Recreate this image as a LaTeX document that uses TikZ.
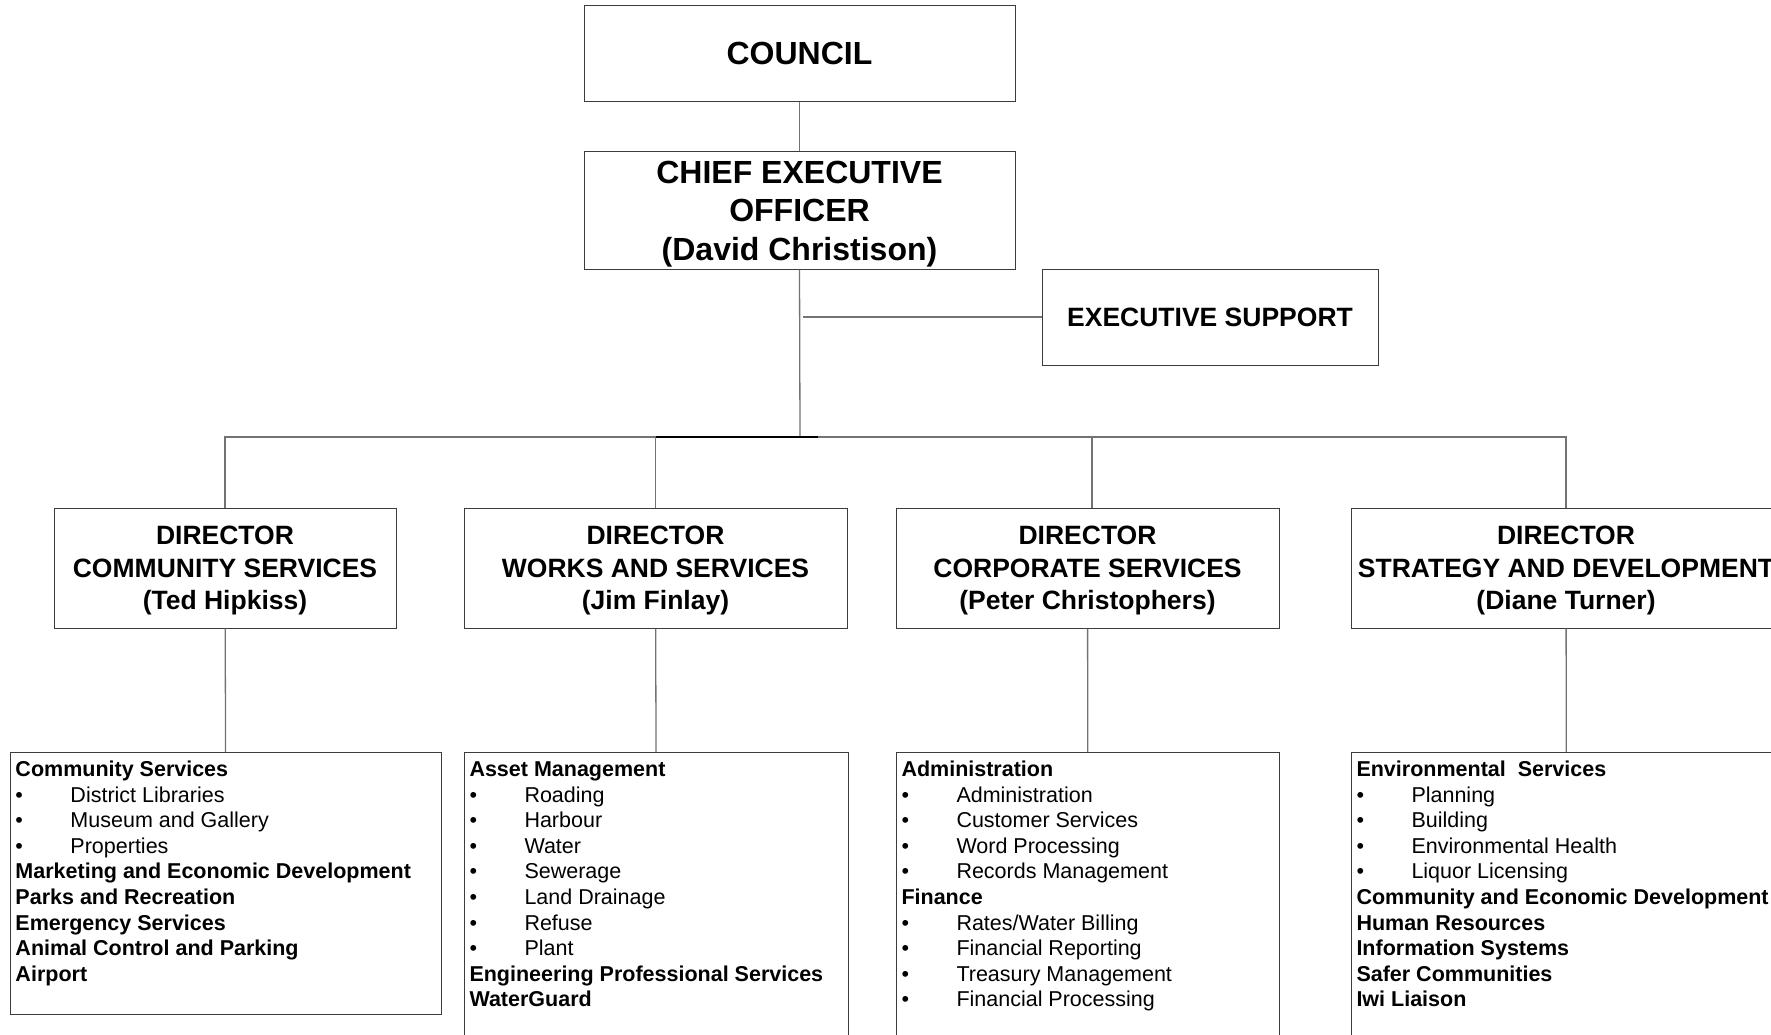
\documentclass[tikz,border=0pt]{standalone}
\usepackage{fontspec}
\setmainfont{Liberation Sans}
\usepackage{xcolor}
\usepackage{tikz}
\usetikzlibrary{positioning, calc}
\definecolor{boxline}{RGB}{60, 60, 60}
\definecolor{linkgray}{RGB}{115, 115, 115}

\newcommand{\unitfont}{\fontsize{21.5}{25.6}\selectfont}
\newcommand{\unithead}[1]{\strut\textbf{#1}\\}
\newcommand{\unititem}[1]{\strut\makebox[55pt][l]{\textbullet}#1\\}
\newcommand{\unitlist}[3]{\parbox[t][#2pt][t]{#1pt}{\unitfont\raggedright #3}}

\begin{document}
\begin{tikzpicture}[
    x=1pt, y=-1pt,
    box/.style={rectangle, draw=boxline, line width=1pt, align=center, inner sep=0pt},
    topbox/.style={box, minimum width=431pt, font=\fontsize{32}{38.5}\selectfont\bfseries},
    dirbox/.style={box, minimum height=120pt, font=\fontsize{26.5}{32.5}\selectfont\bfseries},
    listbox/.style={rectangle, draw=boxline, line width=1pt, anchor=north west, inner xsep=5pt, inner ysep=6pt},
    link/.style={draw=linkgray, line width=1.3pt}
]
\useasboundingbox (0,0) rectangle (1771,1034);
\clip (0,0) rectangle (1771,1034);

% Top of the tree
\node[topbox, minimum height=96pt] (council) at (799.5,53) {COUNCIL};
\node[topbox, minimum height=118pt] (ceo) at (799.5,210) {\rule{0pt}{30pt}CHIEF EXECUTIVE\\OFFICER\\(David Christison)};
\node[box, font=\fontsize{26.5}{32}\selectfont\bfseries, minimum width=336pt, minimum height=96pt] (exec) at (1210,317) {EXECUTIVE SUPPORT};

% Directors
\node[dirbox, minimum width=342pt] (comm) at (225,568) {\rule{0pt}{24pt}DIRECTOR\\COMMUNITY SERVICES\\(Ted Hipkiss)};
\node[dirbox, minimum width=383pt] (works) at (655.5,568) {\rule{0pt}{24pt}DIRECTOR\\WORKS AND SERVICES\\(Jim Finlay)};
\node[dirbox, minimum width=383pt] (corp) at (1087.5,568) {\rule{0pt}{24pt}DIRECTOR\\CORPORATE SERVICES\\(Peter Christophers)};
\node[dirbox, minimum width=430pt] (strat) at (1566,568) {\rule{0pt}{24pt}DIRECTOR\\STRATEGY AND DEVELOPMENT\\(Diane Turner)};

% Units under each director
\node[listbox] (commlist) at (10,752) {\unitlist{421}{250}{%
    \unithead{Community Services}
    \unititem{District Libraries}
    \unititem{Museum and Gallery}
    \unititem{Properties}
    \unithead{Marketing and Economic Development}
    \unithead{Parks and Recreation}
    \unithead{Emergency Services}
    \unithead{Animal Control and Parking}
    \unithead{Airport}}};
\node[listbox] (workslist) at (464,752) {\unitlist{374}{310}{%
    \unithead{Asset Management}
    \unititem{Roading}
    \unititem{Harbour}
    \unititem{Water}
    \unititem{Sewerage}
    \unititem{Land Drainage}
    \unititem{Refuse}
    \unititem{Plant}
    \unithead{Engineering Professional Services}
    \unithead{WaterGuard}}};
\node[listbox] (corplist) at (896,752) {\unitlist{373}{310}{%
    \unithead{Administration}
    \unititem{Administration}
    \unititem{Customer Services}
    \unititem{Word Processing}
    \unititem{Records Management}
    \unithead{Finance}
    \unititem{Rates/Water Billing}
    \unititem{Financial Reporting}
    \unititem{Treasury Management}
    \unititem{Financial Processing}}};
\node[listbox] (stratlist) at (1351,752) {\unitlist{420}{310}{%
    \unithead{Environmental\ \ Services}
    \unititem{Planning}
    \unititem{Building}
    \unititem{Environmental Health}
    \unititem{Liquor Licensing}
    \unithead{Community and Economic Development}
    \unithead{Human Resources}
    \unithead{Information Systems}
    \unithead{Safer Communities}
    \unithead{Iwi Liaison}}};

% Connectors
\coordinate (bus) at (800,437);
\coordinate (corpdrop) at (1092,437);
\draw[link] (council) -- (ceo);
\draw[link] (ceo.south) -- (bus);
\draw[link] (exec.west) -- ([xshift=3pt]exec.west -| ceo.south);
\draw[link] (comm.north) -- (comm.north |- bus) -- (strat.north |- bus) -- (strat.north);
\draw[line width=1.6pt] (works.north |- bus) -- ([xshift=18pt]bus);
\draw[link] (works.north |- bus) -- (works.north);
\draw[link] (corpdrop) -- (corpdrop |- corp.north);
\draw[link] (comm) -- (commlist);
\draw[link] (works) -- (workslist);
\draw[link] (corp) -- (corplist);
\draw[link] (strat) -- (stratlist);

\end{tikzpicture}
\end{document}
